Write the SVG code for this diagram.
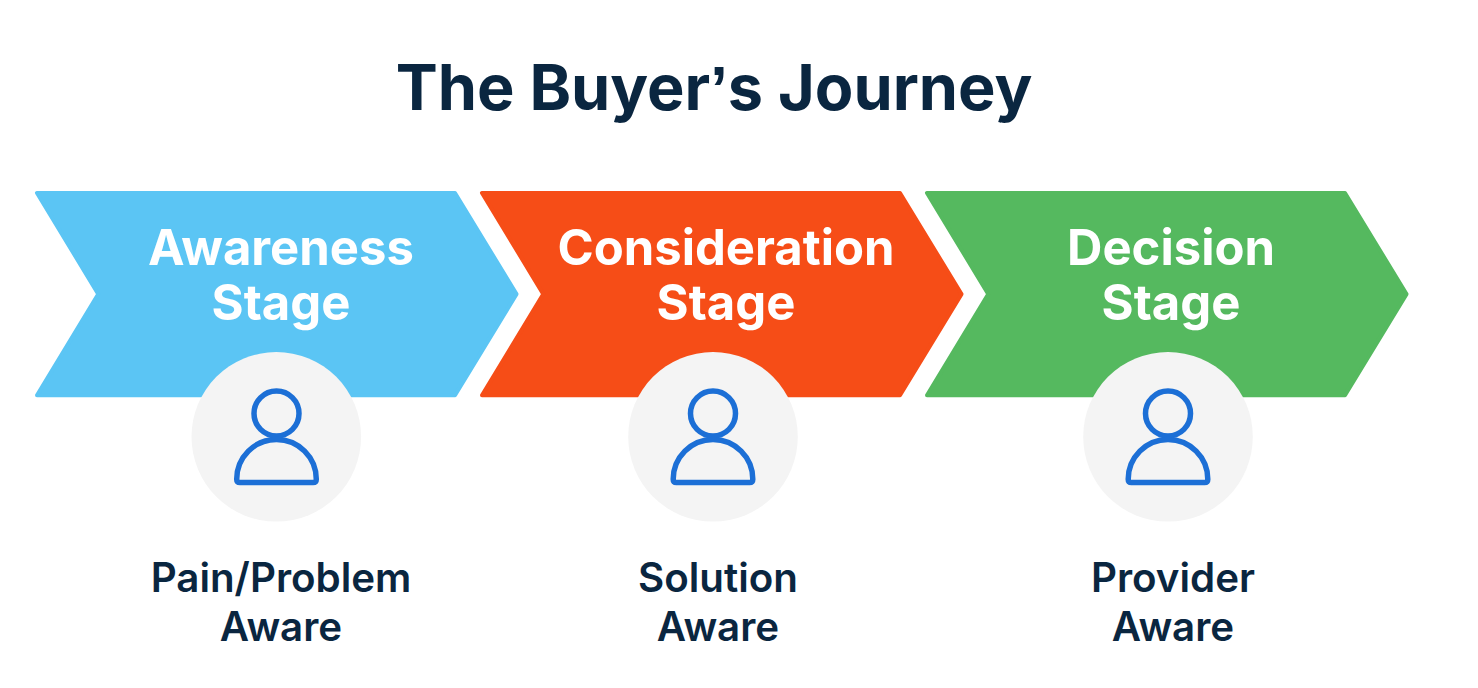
<svg xmlns="http://www.w3.org/2000/svg" width="1478" height="688" viewBox="0 0 1478 688">
<style>
text{font-family:Inter,"Liberation Sans",sans-serif;text-anchor:middle}
.t{font-size:63px;font-weight:700;fill:#0a2640}
.ap{font-family:"Liberation Sans",sans-serif}
.s{font-size:49px;font-weight:700;fill:#fff}
.c{font-size:40.300px;font-weight:600;fill:#0a2640}
.d{fill:#f4f4f4}
.a{stroke-width:4;stroke-linejoin:round}
.i{fill:none;stroke:#1c6fd6;stroke-width:5.500;stroke-linejoin:round}
</style>
<defs>
<path id="chev" d="M37 193H455L516.500 294.100L455 395.300H37L98.300 294.100Z"/>
<path id="body" d="M240 482.600H313Q316.300 482.600 316.300 479.300A39.800 39.800 0 0 0 236.700 479.300Q236.700 482.600 240 482.600Z"/>
</defs>
<rect width="1478" height="688" fill="#fff"/>
<text class="t" x="714" y="110">The Buyer<tspan class="ap">’</tspan>s Journey</text>
<g id="connectors"></g>
<g id="awareness">
<use href="#chev" class="a" fill="#5bc5f4" stroke="#5bc5f4"/>
<text class="s" x="281" y="265">Awareness</text><text class="s" x="281" y="320">Stage</text>
<circle class="d" cx="276.300" cy="436.800" r="84.800"/>
<circle class="i" cx="276.500" cy="413.500" r="22.500"/><use href="#body" class="i"/>
<text class="c" x="281" y="592">Pain/Problem</text><text class="c" x="281" y="641">Aware</text>
</g>
<g id="consideration">
<use href="#chev" x="445" class="a" fill="#f64d17" stroke="#f64d17"/>
<text class="s" x="726" y="265">Consideration</text><text class="s" x="726" y="320">Stage</text>
<circle class="d" cx="713" cy="436.800" r="84.800"/>
<circle class="i" cx="713" cy="413.500" r="22.500"/><use href="#body" x="436.500" class="i"/>
<text class="c" x="718" y="592">Solution</text><text class="c" x="718" y="641">Aware</text>
</g>
<g id="decision">
<use href="#chev" x="890" class="a" fill="#55b95f" stroke="#55b95f"/>
<text class="s" x="1171" y="265">Decision</text><text class="s" x="1171" y="320">Stage</text>
<circle class="d" cx="1168" cy="436.800" r="84.800"/>
<circle class="i" cx="1168" cy="413.500" r="22.500"/><use href="#body" x="891.500" class="i"/>
<text class="c" x="1173" y="592">Provider</text><text class="c" x="1173" y="641">Aware</text>
</g>
</svg>
